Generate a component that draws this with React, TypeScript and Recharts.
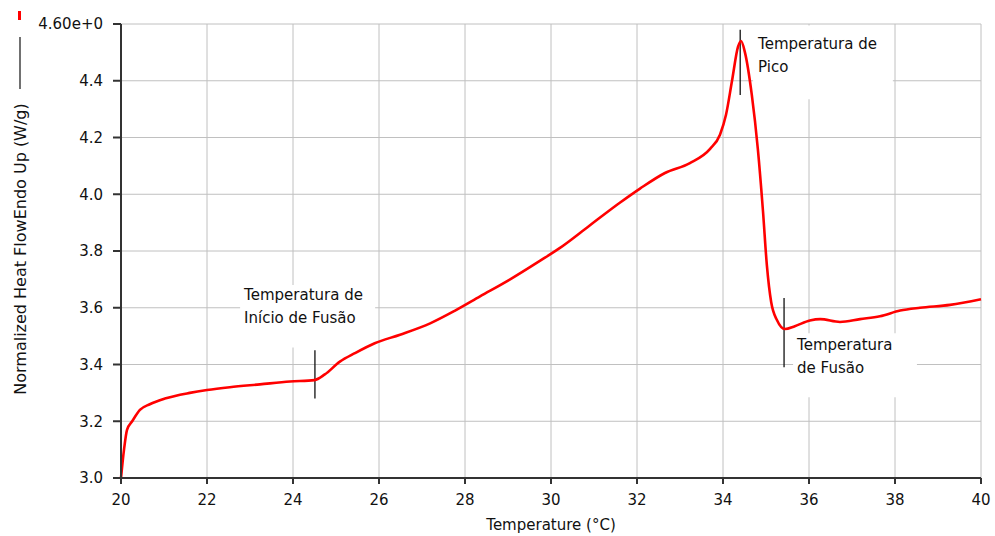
import React from 'react';
import { LineChart, Line, XAxis, YAxis, CartesianGrid, ReferenceArea, ReferenceLine } from 'recharts';

// DSC scan: temperature (°C) vs normalized heat flow (W/g), endo up
const temps = [
  20.0, 20.07, 20.14, 20.26, 20.44, 20.67, 21.02, 21.6, 22.0, 22.53, 23.23, 23.93, 24.5,
  24.74, 25.09, 25.44, 25.9, 26.49, 27.19, 27.77, 28.35, 29.05, 29.74, 30.2, 30.9, 31.6,
  32.07, 32.65, 33.23, 33.7, 33.93, 34.07, 34.21, 34.35, 34.42, 34.51, 34.67, 34.81, 34.93,
  35.02, 35.12, 35.26, 35.44, 35.67, 36.02, 36.26, 36.72, 37.19, 37.65, 38.12, 38.58, 39.28, 40.0,
];
const heatFlow = [
  3.0, 3.1, 3.17, 3.2, 3.24, 3.26, 3.28, 3.3, 3.31, 3.32, 3.33, 3.34, 3.345,
  3.365, 3.41, 3.44, 3.475, 3.505, 3.545, 3.59, 3.64, 3.7, 3.765, 3.81, 3.89, 3.97,
  4.02, 4.075, 4.11, 4.16, 4.21, 4.28, 4.4, 4.52, 4.54, 4.5, 4.35, 4.16, 3.94,
  3.75, 3.62, 3.555, 3.525, 3.535, 3.555, 3.56, 3.55, 3.56, 3.57, 3.59, 3.6, 3.61, 3.63,
];
const xTicks = [20, 22, 24, 26, 28, 30, 32, 34, 36, 38, 40];
const yTicks = [3.0, 3.2, 3.4, 3.6, 3.8, 4.0, 4.2, 4.4, 4.6];

// Annotations: text, white backing box (x1, x2, y1, y2) and marker segment (x, yTop, yBottom)
const peakText = ['Temperatura de', 'Pico'];
const peakBox = [34.7, 37.95, 4.335, 4.595];
const peakMark = [34.4, 4.58, 4.35];
const onsetText = ['Temperatura de', 'Início de Fusão'];
const onsetBox = [22.77, 25.91, 3.46, 3.68];
const onsetMark = [24.51, 3.45, 3.28];
const fusionText = ['Temperatura', 'de Fusão'];
const fusionBox = [35.63, 38.51, 3.285, 3.51];
const fusionMark = [35.42, 3.634, 3.39];

const data = temps.map((t, i) => ({ t, hf: heatFlow[i] }));

const FONT = '"DejaVu Sans", sans-serif';

const boxLabel = (lines: string[], dx: number, firstBaseline: number) => (props: any) => {
  const vb = props.viewBox || {};
  return (
    <text x={vb.x + dx} y={vb.y + firstBaseline} fill="#111" fontSize={15} fontFamily={FONT}>
      {lines.map((l, i) => (
        <tspan key={i} x={vb.x + dx} dy={i === 0 ? 0 : 23}>{l}</tspan>
      ))}
    </text>
  );
};

// rotated axis title with the little series key above it
const YTitle = () => (
  <g>
    <rect x={18} y={11} width={3} height={9} fill="#ff0000" />
    <line x1={20} y1={37} x2={20} y2={89} stroke="#111" strokeWidth={1.2} />
    <text
      x={26}
      y={249}
      transform="rotate(-90 26 249)"
      textAnchor="middle"
      fill="#111"
      fontSize={16}
      fontFamily={FONT}
    >
      Normalized Heat FlowEndo Up (W/g)
    </text>
  </g>
);

const fmtY = (v: number) => (v === 4.6 ? '4.60e+0' : v.toFixed(1));

export default function App() {
  return (
    <div style={{ position: 'absolute', left: 0, top: 0, background: '#fff' }}>
      <LineChart width={995} height={536} data={data} margin={{ top: 24, right: 14, bottom: 0, left: 0 }}>
        <CartesianGrid stroke="#c0c0c0" strokeWidth={1} />
        <XAxis
          dataKey="t"
          type="number"
          domain={[20, 40]}
          ticks={xTicks}
          height={58}
          tickSize={6}
          tickMargin={10}
          stroke="#333"
          strokeWidth={2}
          tick={{ fill: '#111', fontSize: 15, fontFamily: FONT }}
          label={{ value: 'Temperature (°C)', position: 'insideBottom', offset: 6, fill: '#111', fontSize: 15, fontFamily: FONT }}
        />
        <YAxis
          type="number"
          domain={[3.0, 4.6]}
          ticks={yTicks}
          width={121}
          tickSize={8}
          tickMargin={10}
          stroke="#333"
          strokeWidth={2}
          tickFormatter={fmtY}
          tick={{ fill: '#111', fontSize: 15, fontFamily: FONT }}
          label={{ content: () => <YTitle /> }}
        />
        <ReferenceArea x1={peakBox[0]} x2={peakBox[1]} y1={peakBox[2]} y2={peakBox[3]} fill="#fff" fillOpacity={1} stroke="none" label={boxLabel(peakText, 5, 24)} />
        <ReferenceArea x1={onsetBox[0]} x2={onsetBox[1]} y1={onsetBox[2]} y2={onsetBox[3]} fill="#fff" fillOpacity={1} stroke="none" label={boxLabel(onsetText, 4, 15)} />
        <ReferenceArea x1={fusionBox[0]} x2={fusionBox[1]} y1={fusionBox[2]} y2={fusionBox[3]} fill="#fff" fillOpacity={1} stroke="none" label={boxLabel(fusionText, 4, 17)} />
        <ReferenceLine segment={[{ x: peakMark[0], y: peakMark[1] }, { x: peakMark[0], y: peakMark[2] }]} stroke="#111" strokeWidth={1.3} />
        <ReferenceLine segment={[{ x: onsetMark[0], y: onsetMark[1] }, { x: onsetMark[0], y: onsetMark[2] }]} stroke="#111" strokeWidth={1.3} />
        <ReferenceLine segment={[{ x: fusionMark[0], y: fusionMark[1] }, { x: fusionMark[0], y: fusionMark[2] }]} stroke="#111" strokeWidth={1.3} />
        <Line type="monotone" dataKey="hf" stroke="#ff0000" strokeWidth={2.6} dot={false} isAnimationActive={false} />
      </LineChart>
    </div>
  );
}
